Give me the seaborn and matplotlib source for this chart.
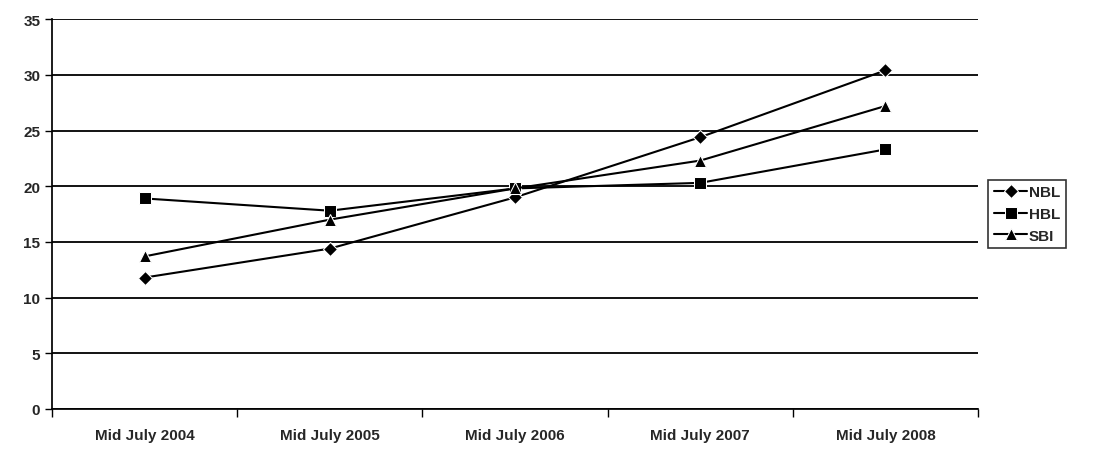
import numpy as np
import pandas as pd
import matplotlib
matplotlib.use("Agg")
import matplotlib.pyplot as plt
import seaborn as sns

periods = ["Mid July 2004", "Mid July 2005", "Mid July 2006", "Mid July 2007", "Mid July 2008"]
nbl = [11.8, 14.4, 19.0, 24.4, 30.4]
hbl = [18.9, 17.8, 19.8, 20.3, 23.3]
sbi = [13.7, 17.0, 19.8, 22.3, 27.2]

df = pd.DataFrame({"period": periods * 3,
                   "value": nbl + hbl + sbi,
                   "bank": ["NBL"] * 5 + ["HBL"] * 5 + ["SBI"] * 5})
df["x"] = list(range(5)) * 3

sns.set_theme(style="white")
plt.rcParams["font.family"] = ["Liberation Sans", "DejaVu Sans"]
plt.rcParams["font.weight"] = "bold"
plt.rcParams["xtick.bottom"] = True
plt.rcParams["ytick.left"] = True

fig = plt.figure(figsize=(11.17, 4.56), dpi=100)
ax = fig.add_axes([0.0466, 0.1009, 0.829, 0.855])
sns.lineplot(data=df, x="x", y="value", hue="bank", style="bank",
             markers={"NBL": "D", "HBL": "s", "SBI": "^"}, dashes=False,
             palette={"NBL": "black", "HBL": "black", "SBI": "black"},
             markersize=9, linewidth=1.5, ax=ax, legend=True)
for ln in ax.lines:
    if ln.get_marker() == "D":
        ln.set_markersize(7)

ax.set_xlim(-0.5, 4.5)
ax.set_ylim(0, 35)
ax.set_yticks(range(0, 36, 5))
ax.set_xticks(range(5))
ax.set_xticklabels(periods, fontsize=11, fontweight="bold")
ax.tick_params(axis="x", which="major", length=0, pad=14)
ax.set_xticks(np.arange(-0.5, 4.6, 1), minor=True)
ax.tick_params(axis="x", which="minor", bottom=True, length=6, width=1,
               color="black", direction="out")
ax.tick_params(axis="y", left=True, labelsize=11, length=5, width=1,
               color="black", direction="out")
for t in ax.get_yticklabels():
    t.set_fontweight("bold")
ax.yaxis.grid(True, color="black", linewidth=1.3)
ax.set_axisbelow(True)
ax.spines["top"].set_visible(False)
ax.spines["right"].set_visible(False)
ax.spines["left"].set_color("black")
ax.spines["bottom"].set_color("black")
ax.set_xlabel("")
ax.set_ylabel("")

leg = ax.legend(loc="center left", bbox_to_anchor=(1.003, 0.5), frameon=True,
                fancybox=False, edgecolor="black", fontsize=11, handlelength=2.2,
                handletextpad=0.1, borderpad=0.35, labelspacing=0.5)
leg.get_frame().set_linewidth(1.2)
for t in leg.get_texts():
    t.set_fontweight("bold")

fig.savefig("out.png", dpi=100)
